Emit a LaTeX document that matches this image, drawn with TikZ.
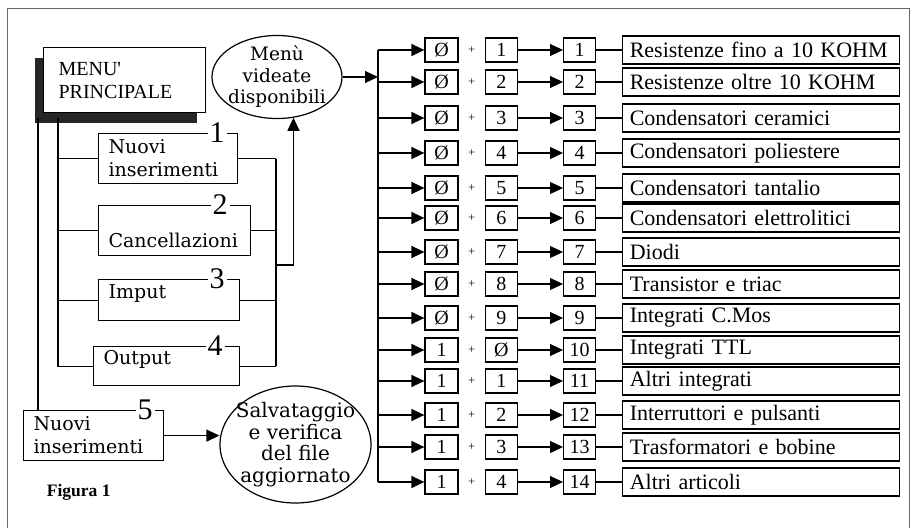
\documentclass[tikz,border=0pt]{standalone}
\usepackage{fontspec}
\setmainfont{Liberation Serif}
\newfontfamily\wideserif{DejaVu Serif}
\usepackage{tikz}
\usetikzlibrary{positioning,shapes.geometric,arrows.meta,shadows}
\newcommand{\txtbox}{\wideserif\fontsize{19}{23}\selectfont}
\newcommand{\txtoval}{\wideserif\fontsize{18.5}{21.5}\selectfont}
\newcommand{\txtsave}{\wideserif\fontsize{20}{21.7}\selectfont}
\newcommand{\txtmenu}{\fontsize{20}{23}\selectfont}
\newcommand{\txtnum}{\fontsize{20}{22}\selectfont}
\newcommand{\txtbig}{\fontsize{30}{30}\selectfont}
\newcommand{\txtitem}{\fontsize{22}{24}\selectfont}
\newcommand{\txtplus}{\fontsize{12}{12}\selectfont}
\newcommand{\txtfig}{\bfseries\fontsize{17.5}{20}\selectfont}
\newcommand{\zs}{Ø}
\tikzstyle{menubox} = [draw, anchor=north west, align=left, inner xsep=10pt, font=\txtbox]
\tikzstyle{num} = [fill=white, inner xsep=2pt, inner ysep=0pt, font=\txtbig]
\tikzstyle{oval} = [draw, ellipse, inner xsep=-20pt, inner ysep=-5pt, align=center]
\tikzstyle{cell} = [draw, minimum width=32pt, minimum height=24pt, inner sep=0pt, font=\txtnum]
\tikzstyle{plussign} = [minimum width=25pt, inner sep=0pt, font=\txtplus]
\tikzstyle{item} = [draw, minimum height=28pt, text width=263pt, inner xsep=7pt, inner ysep=0pt, align=left, font=\txtitem]
\tikzstyle{flow} = [-{Triangle[length=13pt,width=12pt]}]

\begin{document}
\begin{tikzpicture}[x=1pt, y=-1pt, line width=1.2pt]
	\useasboundingbox (0,0) rectangle (914,530);
	\draw [line width=1pt,black!60] (7,528) -- (7,8) -- (909,8) -- (909,528);
	%
	\node (menu) [draw, fill=white, anchor=north west, align=left, text width=132pt, minimum height=65pt, inner xsep=15pt, font=\txtmenu,
		drop shadow={shadow xshift=-9pt, shadow yshift=-10pt, fill=black!85, opacity=1}] at (43,47) {MENU\textquotesingle\\PRINCIPALE};
	\coordinate (s1) at (38,118);
	\coordinate (s2) at (58,118);
	%
	\node (box1) [menubox, text width=119pt, minimum height=50pt] at (98,133) {Nuovi\\inserimenti};
	\node (box2) [menubox, text width=132pt, minimum height=50pt, text height=34pt] at (98,205) {Cancellazioni};
	\node (box3) [menubox, text width=121pt, minimum height=41pt, text depth=17pt] at (98,279) {Imput};
	\node (box4) [menubox, text width=126pt, minimum height=39pt, text depth=17pt] at (93,346) {Output};
	\node (box5) [menubox, text width=120pt, minimum height=50pt] at (23,410) {Nuovi\\inserimenti};
	%
	\node (n1) [num] at (217,133) {1};
	\node (n2) [num] at (220,205) {2};
	\node (n3) [num] at (217,279) {3};
	\node (n4) [num] at (215,346) {4};
	\node (n5) [num] at (145,410) {5};
	%
	\node (vid) [oval, font=\txtoval, minimum width=130pt, minimum height=83pt] at (277,77) {Menù\\videate\\disponibili};
	\node (sav) [oval, font=\txtsave, minimum width=151pt, minimum height=117pt] at (295.5,444.5) {Salvataggio\\e verifica\\del file\\aggiornato};
	\node (fig) [anchor=west, font=\txtfig] at (43,492) {Figura 1};
	%
	\draw (s1) -- (s1 |- box5.north);
	\draw (s2) |- (box4.west);
	\draw (s2 |- box1.west) -- (box1.west);
	\draw (s2 |- box2.west) -- (box2.west);
	\draw (s2 |- box3.west) -- (box3.west);
	%
	\coordinate (bus1) at (276,265);
	\draw (box1.east) -- (box1.east -| bus1);
	\draw (box2.east) -- (box2.east -| bus1);
	\draw (box3.east) -- (box3.east -| bus1);
	\draw (box4.east) -- (box4.east -| bus1);
	\draw (box1.east -| bus1) -- (box4.east -| bus1);
	\draw [flow] (bus1) -| (vid.-68);
	%
	\draw [flow] (box5.east) -- (box5.east -| sav.west);
	%
	\coordinate (bus) at (378,77);
	\draw [flow] (vid.east) -- (bus);
	%
	\node (a1) [cell, minimum width=33pt] at (441.5,50) {\zs};
	\node (p1) [plussign, right=0pt of a1] {+};
	\node (b1) [cell, right=0pt of p1] {1};
	\node (c1) [cell, right=45pt of b1] {1};
	\node (l1) [item, right=26pt of c1] {Resistenze fino a 10 KOHM};
	%
	\node (a2) [cell, minimum width=33pt] at (441.5,82) {\zs};
	\node (p2) [plussign, right=0pt of a2] {+};
	\node (b2) [cell, right=0pt of p2] {2};
	\node (c2) [cell, right=45pt of b2] {2};
	\node (l2) [item, right=26pt of c2] {Resistenze oltre 10 KOHM};
	%
	\node (a3) [cell, minimum width=33pt] at (441.5,118) {\zs};
	\node (p3) [plussign, right=0pt of a3] {+};
	\node (b3) [cell, right=0pt of p3] {3};
	\node (c3) [cell, right=45pt of b3] {3};
	\node (l3) [item, right=26pt of c3] {Condensatori ceramici};
	%
	\node (a4) [cell, minimum width=33pt] at (441.5,153) {\zs};
	\node (p4) [plussign, right=0pt of a4] {+};
	\node (b4) [cell, right=0pt of p4] {4};
	\node (c4) [cell, right=45pt of b4] {4};
	\node (l4) [item, right=26pt of c4] {Condensatori poliestere};
	%
	\node (a5) [cell, minimum width=33pt] at (441.5,188) {\zs};
	\node (p5) [plussign, right=0pt of a5] {+};
	\node (b5) [cell, right=0pt of p5] {5};
	\node (c5) [cell, right=45pt of b5] {5};
	\node (l5) [item, right=26pt of c5] {Condensatori tantalio};
	%
	\node (a6) [cell, minimum width=33pt] at (441.5,218) {\zs};
	\node (p6) [plussign, right=0pt of a6] {+};
	\node (b6) [cell, right=0pt of p6] {6};
	\node (c6) [cell, right=45pt of b6] {6};
	\node (l6) [item, right=26pt of c6] {Condensatori elettrolitici};
	%
	\node (a7) [cell, minimum width=33pt] at (441.5,252) {\zs};
	\node (p7) [plussign, right=0pt of a7] {+};
	\node (b7) [cell, right=0pt of p7] {7};
	\node (c7) [cell, right=45pt of b7] {7};
	\node (l7) [item, right=26pt of c7] {Diodi};
	%
	\node (a8) [cell, minimum width=33pt] at (441.5,284) {\zs};
	\node (p8) [plussign, right=0pt of a8] {+};
	\node (b8) [cell, right=0pt of p8] {8};
	\node (c8) [cell, right=45pt of b8] {8};
	\node (l8) [item, right=26pt of c8] {Transistor e triac};
	%
	\node (a9) [cell, minimum width=33pt] at (441.5,318) {\zs};
	\node (p9) [plussign, right=0pt of a9] {+};
	\node (b9) [cell, right=0pt of p9] {9};
	\node (c9) [cell, right=45pt of b9] {9};
	\node (l9) [item, right=26pt of c9] {Integrati C.Mos};
	%
	\node (a10) [cell, minimum width=33pt] at (441.5,350) {1};
	\node (p10) [plussign, right=0pt of a10] {+};
	\node (b10) [cell, right=0pt of p10] {\zs};
	\node (c10) [cell, right=45pt of b10] {10};
	\node (l10) [item, right=26pt of c10] {Integrati TTL};
	%
	\node (a11) [cell, minimum width=33pt] at (441.5,381) {1};
	\node (p11) [plussign, right=0pt of a11] {+};
	\node (b11) [cell, right=0pt of p11] {1};
	\node (c11) [cell, right=45pt of b11] {11};
	\node (l11) [item, right=26pt of c11] {Altri integrati};
	%
	\node (a12) [cell, minimum width=33pt] at (441.5,415) {1};
	\node (p12) [plussign, right=0pt of a12] {+};
	\node (b12) [cell, right=0pt of p12] {2};
	\node (c12) [cell, right=45pt of b12] {12};
	\node (l12) [item, right=26pt of c12] {Interruttori e pulsanti};
	%
	\node (a13) [cell, minimum width=33pt] at (441.5,447) {1};
	\node (p13) [plussign, right=0pt of a13] {+};
	\node (b13) [cell, right=0pt of p13] {3};
	\node (c13) [cell, right=45pt of b13] {13};
	\node (l13) [item, right=26pt of c13] {Trasformatori e bobine};
	%
	\node (a14) [cell, minimum width=33pt] at (441.5,482) {1};
	\node (p14) [plussign, right=0pt of a14] {+};
	\node (b14) [cell, right=0pt of p14] {4};
	\node (c14) [cell, right=45pt of b14] {14};
	\node (l14) [item, right=26pt of c14] {Altri articoli};
	%
	\draw (bus |- a1) -- (bus |- a14);
	%
	\draw [flow] (bus |- a1) -- (a1);
	\draw [flow] (b1) -- (c1);
	\draw (c1) -- (l1);
	%
	\draw [flow] (bus |- a2) -- (a2);
	\draw [flow] (b2) -- (c2);
	\draw (c2) -- (l2);
	%
	\draw [flow] (bus |- a3) -- (a3);
	\draw [flow] (b3) -- (c3);
	\draw (c3) -- (l3);
	%
	\draw [flow] (bus |- a4) -- (a4);
	\draw [flow] (b4) -- (c4);
	\draw (c4) -- (l4);
	%
	\draw [flow] (bus |- a5) -- (a5);
	\draw [flow] (b5) -- (c5);
	\draw (c5) -- (l5);
	%
	\draw [flow] (bus |- a6) -- (a6);
	\draw [flow] (b6) -- (c6);
	\draw (c6) -- (l6);
	%
	\draw [flow] (bus |- a7) -- (a7);
	\draw [flow] (b7) -- (c7);
	\draw (c7) -- (l7);
	%
	\draw [flow] (bus |- a8) -- (a8);
	\draw [flow] (b8) -- (c8);
	\draw (c8) -- (l8);
	%
	\draw [flow] (bus |- a9) -- (a9);
	\draw [flow] (b9) -- (c9);
	\draw (c9) -- (l9);
	%
	\draw [flow] (bus |- a10) -- (a10);
	\draw [flow] (b10) -- (c10);
	\draw (c10) -- (l10);
	%
	\draw [flow] (bus |- a11) -- (a11);
	\draw [flow] (b11) -- (c11);
	\draw (c11) -- (l11);
	%
	\draw [flow] (bus |- a12) -- (a12);
	\draw [flow] (b12) -- (c12);
	\draw (c12) -- (l12);
	%
	\draw [flow] (bus |- a13) -- (a13);
	\draw [flow] (b13) -- (c13);
	\draw (c13) -- (l13);
	%
	\draw [flow] (bus |- a14) -- (a14);
	\draw [flow] (b14) -- (c14);
	\draw (c14) -- (l14);
\end{tikzpicture}
\end{document}
